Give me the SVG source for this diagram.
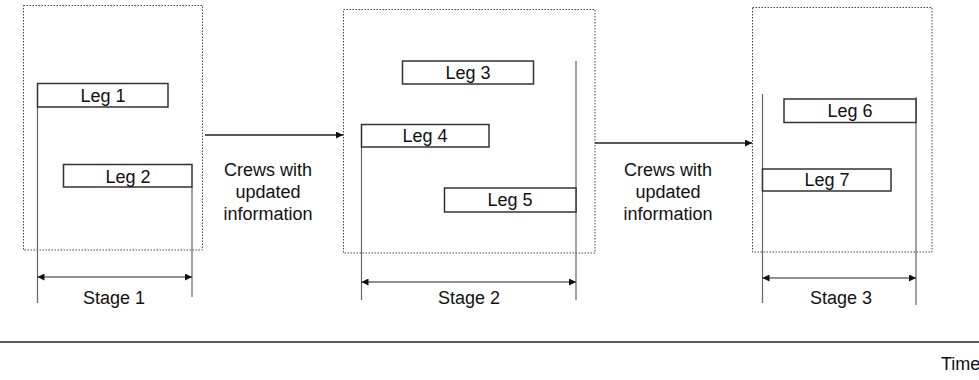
<svg xmlns="http://www.w3.org/2000/svg" width="979" height="380" viewBox="0 0 979 380">
<defs>
<marker id="ah" viewBox="0 0 10 10" refX="10" refY="5" markerWidth="9" markerHeight="7" markerUnits="userSpaceOnUse" orient="auto-start-reverse">
<path d="M0,0 L10,5 L0,10 z" fill="#111"/>
</marker>
<style>
text{font-family:"Liberation Sans",Arial,sans-serif;font-size:18px;fill:#111;}
.stage{fill:none;stroke:#444;stroke-width:1;stroke-dasharray:1.5,1.5;}
.leg{fill:#fff;stroke:#333;stroke-width:1.5;}
.vl{stroke:#666;stroke-width:1.2;fill:none;}
.dim{stroke:#222;stroke-width:1.2;fill:none;marker-start:url(#ah);marker-end:url(#ah);}
.conn{stroke:#222;stroke-width:1.3;fill:none;marker-end:url(#ah);}
</style>
</defs>

<g id="stage1">
<rect class="stage" x="23.5" y="5.5" width="179" height="244.5"/>
</g>
<g id="stage2">
<rect class="stage" x="343.5" y="9.5" width="251.5" height="243.5"/>
</g>
<g id="stage3">
<rect class="stage" x="752.5" y="7.5" width="179.5" height="244.5"/>
</g>

<g id="guides">
<line class="vl" x1="37.5" y1="107" x2="37.5" y2="303"/>
<line class="vl" x1="192" y1="187" x2="192" y2="297"/>
<line class="vl" x1="361.5" y1="147" x2="361.5" y2="300"/>
<line class="vl" x1="576" y1="61" x2="576" y2="300"/>
<line class="vl" x1="762.5" y1="94" x2="762.5" y2="303"/>
<line class="vl" x1="916" y1="97" x2="916" y2="305"/>
</g>

<g id="leg1"><rect class="leg" x="37.5" y="83.5" width="130.5" height="23.5"/><text x="103" y="101.5" text-anchor="middle">Leg 1</text></g>
<g id="leg2"><rect class="leg" x="63.5" y="164.5" width="128.5" height="22.5"/><text x="128" y="182.5" text-anchor="middle">Leg 2</text></g>
<g id="leg3"><rect class="leg" x="402.5" y="61" width="131" height="23"/><text x="468" y="79" text-anchor="middle">Leg 3</text></g>
<g id="leg4"><rect class="leg" x="361.5" y="124.5" width="127.5" height="22.5"/><text x="425" y="142" text-anchor="middle">Leg 4</text></g>
<g id="leg5"><rect class="leg" x="444.5" y="188" width="131.5" height="24"/><text x="510" y="206" text-anchor="middle">Leg 5</text></g>
<g id="leg6"><rect class="leg" x="784" y="99" width="132" height="23.5"/><text x="850" y="117" text-anchor="middle">Leg 6</text></g>
<g id="leg7"><rect class="leg" x="762.5" y="169" width="128.5" height="22"/><text x="827" y="186" text-anchor="middle">Leg 7</text></g>

<g id="connectors">
<line class="conn" x1="205" y1="135" x2="343" y2="135"/>
<line class="conn" x1="595" y1="143" x2="752" y2="143"/>
<line class="dim" x1="37.5" y1="277" x2="192" y2="277"/>
<line class="dim" x1="361.5" y1="282" x2="576" y2="282"/>
<line class="dim" x1="762.5" y1="278" x2="916" y2="278"/>
<line x1="0" y1="342" x2="979" y2="342" stroke="#222" stroke-width="1.3"/>
</g>

<g id="labels">
<text x="268" y="176" text-anchor="middle">Crews with</text>
<text x="268" y="198" text-anchor="middle">updated</text>
<text x="268" y="220" text-anchor="middle">information</text>
<text x="668" y="176" text-anchor="middle">Crews with</text>
<text x="668" y="198" text-anchor="middle">updated</text>
<text x="668" y="220" text-anchor="middle">information</text>
<text x="114" y="303.5" text-anchor="middle">Stage 1</text>
<text x="469" y="303.5" text-anchor="middle">Stage 2</text>
<text x="841" y="303.5" text-anchor="middle">Stage 3</text>
<text x="941" y="370">Time</text>
</g>
</svg>
